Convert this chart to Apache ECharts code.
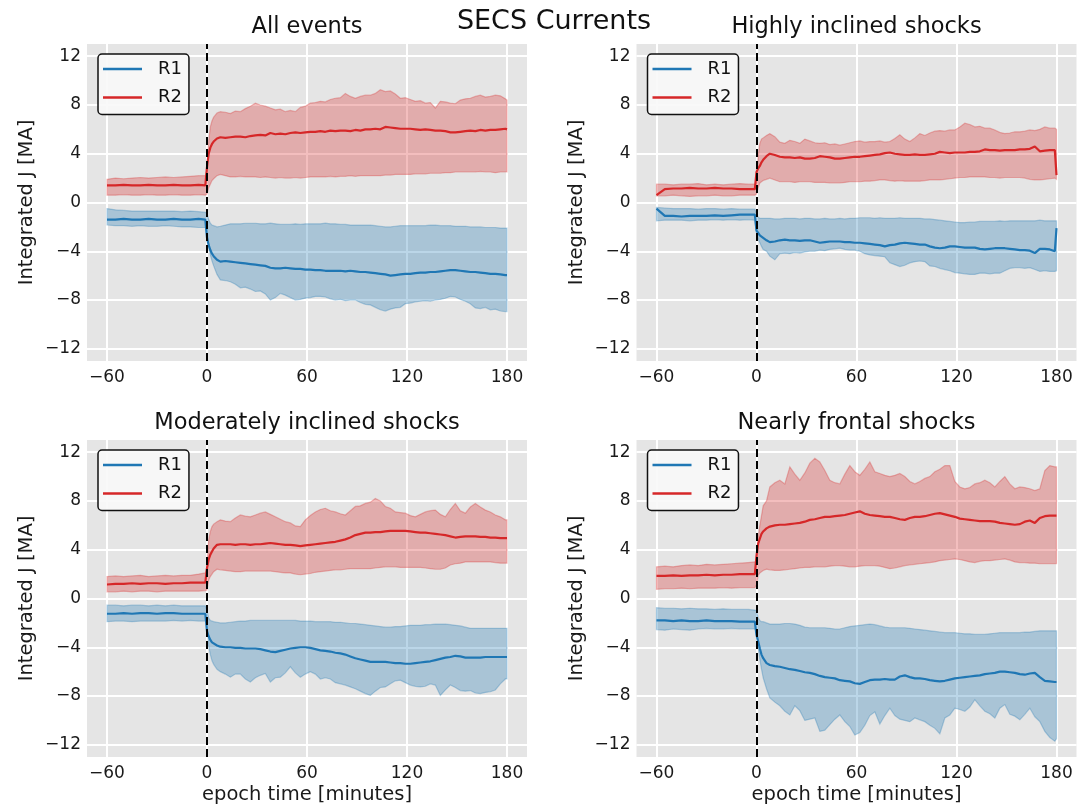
<!DOCTYPE html>
<html>
<head>
<meta charset="utf-8">
<script src="https://cdn.jsdelivr.net/npm/echarts@6/dist/echarts.min.js"></script>
<style>
  html, body { margin: 0; padding: 0; background: #ffffff; }
  #chart { width: 1090px; height: 807px; }
</style>
</head>
<body>
<div id="chart"></div>
<script>
// Epoch time grid in minutes (shared by every panel)
const TIME = [
  -60,-55,-50,-45,-40,-35,-30,-25,-20,-15,-10,-5,-1,
  0,1,2,3,4,6,
  8,11,14,17,20,23,26,29,32,35,
  38,41,44,47,50,53,56,59,62,65,
  68,71,74,77,80,83,86,89,92,95,
  98,101,104,107,110,113,116,119,122,125,
  128,131,134,137,140,143,146,149,152,155,
  158,161,164,167,170,173,176,179,
  180
];

const X_TICKS = [-60, 0, 60, 120, 180];
const Y_TICKS = [-12, -8, -4, 0, 4, 8, 12];
const TITLES = ['All events', 'Highly inclined shocks', 'Moderately inclined shocks', 'Nearly frontal shocks'];
const SERIES_NAMES = ['R1', 'R2'];

// ---- All events ----
const allR2 = [
  1.4,1.4,1.45,1.4,1.4,1.45,1.4,1.4,1.45,1.4,1.4,1.45,1.4,
  2.9,4.0,4.5,4.8,5.0,5.25,
  5.35,5.3,5.35,5.4,5.4,5.35,5.45,5.5,5.55,5.5,
  5.7,5.6,5.65,5.6,5.7,5.75,5.7,5.75,5.8,5.8,
  5.85,5.8,5.9,5.85,5.9,5.9,5.85,5.95,5.9,6.0,
  6.0,6.05,6.0,6.2,6.15,6.1,6.05,6.05,6.05,6.0,
  5.95,6.0,5.95,5.9,5.9,5.85,5.75,5.75,5.8,5.85,
  5.9,5.85,5.95,5.9,5.95,5.95,6.0,6.05,
  6.0
];
const allR2Hi = [
  1.9,2.0,1.95,2.0,2.05,2.0,2.05,2.1,2.05,2.1,2.15,2.2,2.2,
  2.6,5.0,6.2,6.7,7.0,7.35,
  7.45,7.4,7.3,7.5,7.45,7.7,7.9,8.15,8.0,7.9,
  7.75,7.6,7.65,7.45,7.55,7.45,7.8,7.9,8.15,8.2,
  8.3,8.25,8.45,8.55,8.6,8.95,8.7,8.55,8.7,8.8,
  8.8,8.95,9.25,9.1,9.15,8.9,8.55,8.6,8.45,8.3,
  8.35,8.15,8.2,7.75,8.3,8.25,8.15,8.1,8.4,8.5,
  8.55,8.7,8.8,8.65,8.7,8.8,8.75,8.5,
  8.4
];
const allR2Lo = [
  0.6,0.6,0.65,0.6,0.6,0.65,0.6,0.6,0.65,0.6,0.6,0.65,0.6,
  0.7,1.2,1.5,1.8,1.95,2.2,
  2.3,2.2,2.1,2.1,2.15,2.1,2.1,2.1,2.05,2.1,
  2.05,2.0,2.05,2.0,2.0,2.05,2.0,2.05,2.1,2.1,
  2.1,2.1,2.15,2.1,2.15,2.15,2.2,2.15,2.2,2.2,
  2.2,2.2,2.2,2.25,2.25,2.3,2.3,2.3,2.3,2.35,
  2.35,2.35,2.4,2.4,2.4,2.45,2.45,2.5,2.5,2.5,
  2.5,2.5,2.55,2.5,2.5,2.45,2.5,2.5,
  2.5
];
const allR1 = [
  -1.4,-1.4,-1.35,-1.4,-1.4,-1.35,-1.4,-1.4,-1.35,-1.4,-1.4,-1.35,-1.4,
  -2.9,-3.5,-3.9,-4.2,-4.4,-4.7,
  -4.85,-4.8,-4.85,-4.9,-4.95,-5.0,-5.05,-5.1,-5.15,-5.2,
  -5.35,-5.4,-5.4,-5.35,-5.4,-5.45,-5.45,-5.5,-5.5,-5.55,
  -5.55,-5.6,-5.6,-5.6,-5.6,-5.65,-5.6,-5.65,-5.7,-5.7,
  -5.75,-5.8,-5.85,-5.9,-6.0,-5.95,-5.9,-5.85,-5.85,-5.8,
  -5.75,-5.75,-5.7,-5.7,-5.65,-5.6,-5.55,-5.55,-5.6,-5.65,
  -5.7,-5.7,-5.75,-5.8,-5.85,-5.85,-5.9,-5.95,
  -5.95
];
const allR1Hi = [
  -0.5,-0.6,-0.65,-0.7,-0.7,-0.7,-0.7,-0.7,-0.7,-0.75,-0.7,-0.75,-0.8,
  -0.9,-1.4,-1.7,-1.85,-1.9,-2.0,
  -1.95,-1.85,-1.75,-1.75,-1.75,-1.7,-1.7,-1.7,-1.75,-1.75,
  -1.7,-1.75,-1.8,-1.8,-1.8,-1.75,-1.8,-1.75,-1.75,-1.75,
  -1.75,-1.7,-1.75,-1.75,-1.8,-1.8,-1.85,-1.85,-1.85,-1.85,
  -1.85,-1.9,-1.95,-2.0,-2.0,-1.95,-1.9,-1.9,-1.9,-1.9,
  -1.9,-1.9,-1.85,-1.85,-1.9,-1.9,-1.9,-1.95,-1.95,-1.95,
  -2.0,-2.0,-2.0,-2.05,-2.05,-2.05,-2.1,-2.1,
  -2.1
];
const allR1Lo = [
  -1.85,-1.9,-1.9,-1.95,-1.9,-1.95,-1.95,-1.9,-1.95,-2.0,-2.0,-2.05,-2.05,
  -2.2,-3.5,-4.3,-4.8,-5.2,-5.9,
  -6.35,-6.4,-6.5,-6.7,-7.0,-6.95,-7.1,-7.3,-7.25,-7.5,
  -8.0,-7.8,-7.45,-7.6,-7.8,-8.0,-7.95,-7.85,-7.8,-7.7,
  -7.7,-7.75,-7.9,-8.0,-7.95,-8.05,-8.0,-8.0,-8.2,-8.35,
  -8.4,-8.6,-8.8,-8.9,-8.75,-8.65,-8.6,-8.3,-8.25,-8.15,
  -8.1,-8.05,-8.1,-8.0,-7.95,-7.85,-7.7,-7.75,-7.95,-8.1,
  -8.3,-8.65,-8.7,-8.6,-8.8,-8.75,-8.9,-8.95,
  -8.95
];

// ---- Highly inclined shocks ----
const highR2 = [
  0.6,1.1,1.15,1.15,1.2,1.15,1.15,1.2,1.15,1.15,1.1,1.1,1.1,
  2.5,2.8,3.0,3.3,3.5,3.8,
  4.0,3.9,3.75,3.7,3.7,3.65,3.7,3.6,3.6,3.65,
  3.8,3.75,3.7,3.6,3.6,3.65,3.7,3.75,3.75,3.8,
  3.85,3.9,3.95,4.05,4.1,4.0,3.95,3.9,3.9,3.95,
  3.9,3.9,3.95,4.0,4.15,4.1,4.05,4.1,4.1,4.1,
  4.15,4.15,4.2,4.35,4.3,4.3,4.25,4.3,4.3,4.3,
  4.35,4.35,4.4,4.6,4.2,4.25,4.3,4.3,
  2.25
];
const highR2Hi = [
  1.5,1.5,1.45,1.5,1.5,1.55,1.45,1.5,1.45,1.5,1.55,1.5,1.5,
  1.6,3.8,4.85,5.2,5.3,5.5,
  5.65,5.4,4.95,4.85,5.1,5.0,4.85,5.2,5.05,4.9,
  4.85,4.9,4.75,4.8,4.7,4.8,4.9,5.0,5.05,4.95,
  5.0,5.0,5.05,4.95,5.0,5.25,5.55,5.2,5.0,5.3,
  5.65,5.5,5.7,5.85,5.9,5.85,5.95,5.95,6.2,6.5,
  6.4,6.2,6.25,6.1,6.1,5.95,5.75,5.65,5.7,5.8,
  5.8,5.85,5.95,5.9,6.0,6.2,6.1,6.1,
  6.0
];
const highR2Lo = [
  0.55,0.55,0.6,0.55,0.5,0.55,0.55,0.6,0.55,0.55,0.6,0.6,0.6,
  0.7,1.2,1.6,1.7,1.8,1.9,
  2.0,1.85,1.7,1.7,1.7,1.65,1.7,1.7,1.7,1.65,
  1.65,1.65,1.6,1.6,1.6,1.65,1.7,1.7,1.7,1.75,
  1.75,1.8,1.85,1.85,1.8,1.75,1.8,1.75,1.75,1.75,
  1.75,1.8,1.85,1.85,1.85,1.9,1.95,2.0,2.05,2.05,
  2.1,2.1,2.1,2.1,2.05,2.05,2.0,2.05,2.05,2.05,
  2.05,2.0,1.9,1.85,1.85,1.9,1.95,2.0,
  1.9
];
const highR1 = [
  -0.5,-1.1,-1.1,-1.15,-1.1,-1.1,-1.1,-1.05,-1.1,-1.05,-1.0,-1.0,-1.0,
  -2.3,-2.5,-2.7,-2.8,-2.9,-3.1,
  -3.25,-3.2,-3.1,-3.05,-3.1,-3.1,-3.15,-3.1,-3.1,-3.2,
  -3.3,-3.25,-3.2,-3.2,-3.2,-3.25,-3.25,-3.3,-3.3,-3.35,
  -3.4,-3.45,-3.5,-3.6,-3.5,-3.45,-3.35,-3.3,-3.35,-3.4,
  -3.45,-3.45,-3.6,-3.7,-3.75,-3.7,-3.6,-3.6,-3.65,-3.7,
  -3.7,-3.7,-3.8,-3.85,-3.8,-3.75,-3.75,-3.75,-3.8,-3.85,
  -3.9,-3.9,-3.95,-4.15,-3.8,-3.8,-3.85,-4.0,
  -2.1
];
const highR1Hi = [
  -0.4,-0.45,-0.5,-0.5,-0.5,-0.55,-0.5,-0.5,-0.55,-0.5,-0.55,-0.55,-0.55,
  -0.9,-1.2,-1.3,-1.3,-1.3,-1.3,
  -1.3,-1.35,-1.35,-1.3,-1.3,-1.3,-1.35,-1.3,-1.3,-1.35,
  -1.35,-1.3,-1.35,-1.35,-1.3,-1.35,-1.3,-1.3,-1.25,-1.25,
  -1.25,-1.3,-1.25,-1.3,-1.3,-1.3,-1.25,-1.3,-1.3,-1.3,
  -1.3,-1.35,-1.35,-1.4,-1.45,-1.5,-1.55,-1.6,-1.65,-1.65,
  -1.6,-1.6,-1.55,-1.55,-1.55,-1.55,-1.5,-1.55,-1.5,-1.5,
  -1.5,-1.5,-1.5,-1.5,-1.45,-1.5,-1.5,-1.5,
  -1.5
];
const highR1Lo = [
  -1.5,-1.45,-1.45,-1.45,-1.5,-1.45,-1.45,-1.4,-1.45,-1.4,-1.45,-1.4,-1.45,
  -2.5,-3.0,-3.3,-3.6,-3.85,-4.0,
  -4.4,-4.7,-4.2,-4.15,-4.2,-4.1,-4.15,-4.05,-4.0,-4.0,
  -3.9,-3.95,-3.85,-3.8,-3.75,-3.85,-3.9,-3.9,-4.0,-4.2,
  -4.3,-4.35,-4.4,-4.45,-4.95,-5.1,-5.25,-5.15,-4.95,-4.85,
  -4.8,-4.85,-5.2,-5.25,-5.4,-5.5,-5.6,-5.75,-5.8,-5.85,
  -5.9,-5.9,-5.8,-5.8,-5.85,-5.8,-5.8,-5.6,-5.4,-5.35,
  -5.35,-5.4,-5.35,-5.5,-5.65,-5.6,-5.65,-5.65,
  -5.6
];

// ---- Moderately inclined shocks ----
const modR2 = [
  1.15,1.2,1.2,1.25,1.2,1.25,1.25,1.2,1.25,1.25,1.3,1.3,1.3,
  2.5,3.2,3.6,3.85,4.1,4.4,
  4.45,4.45,4.45,4.4,4.45,4.45,4.4,4.45,4.45,4.5,
  4.55,4.5,4.45,4.4,4.4,4.35,4.3,4.35,4.4,4.45,
  4.5,4.55,4.6,4.65,4.75,4.85,5.0,5.2,5.3,5.4,
  5.4,5.45,5.45,5.5,5.55,5.55,5.55,5.55,5.5,5.45,
  5.4,5.4,5.35,5.3,5.25,5.2,5.1,5.0,5.05,5.1,
  5.1,5.1,5.05,5.05,5.0,5.0,4.95,4.95,
  4.95
];
const modR2Hi = [
  1.8,1.85,1.8,1.85,1.9,1.8,1.85,1.9,1.85,1.9,1.9,2.0,2.1,
  2.6,4.8,5.5,5.9,6.1,6.3,
  6.45,6.35,6.3,6.6,6.85,6.75,6.7,6.85,7.0,7.1,
  6.9,6.7,6.5,6.3,6.2,5.95,5.9,6.45,6.8,7.1,
  7.3,7.4,7.2,7.1,6.95,6.85,7.2,7.55,7.6,7.8,
  7.9,8.2,8.0,7.55,7.4,7.1,7.05,7.0,6.8,6.7,
  6.9,7.1,7.2,7.25,6.9,6.7,7.3,7.8,7.2,7.0,
  7.5,7.8,7.5,7.25,7.1,6.85,6.7,6.45,
  6.45
];
const modR2Lo = [
  0.55,0.55,0.6,0.55,0.6,0.6,0.55,0.6,0.6,0.6,0.6,0.6,0.65,
  0.7,1.5,1.8,2.0,2.2,2.4,
  2.35,2.3,2.25,2.2,2.2,2.25,2.25,2.25,2.25,2.25,
  2.25,2.2,2.15,2.1,2.1,2.0,1.95,2.0,2.05,2.15,
  2.2,2.25,2.3,2.35,2.35,2.4,2.45,2.45,2.45,2.45,
  2.45,2.5,2.55,2.6,2.6,2.6,2.55,2.55,2.55,2.55,
  2.55,2.5,2.45,2.4,2.4,2.5,2.75,2.85,2.9,3.0,
  3.0,3.0,3.0,3.0,3.0,2.95,2.9,2.9,
  2.9
];
const modR1 = [
  -1.25,-1.25,-1.2,-1.25,-1.2,-1.2,-1.25,-1.2,-1.2,-1.25,-1.25,-1.25,-1.25,
  -2.7,-3.1,-3.4,-3.6,-3.75,-3.85,
  -3.95,-4.0,-4.0,-4.05,-4.05,-4.1,-4.1,-4.1,-4.15,-4.25,
  -4.35,-4.4,-4.3,-4.2,-4.1,-4.05,-4.0,-4.0,-4.05,-4.15,
  -4.25,-4.3,-4.35,-4.45,-4.5,-4.6,-4.75,-4.9,-5.0,-5.1,
  -5.2,-5.2,-5.2,-5.2,-5.25,-5.3,-5.3,-5.35,-5.35,-5.3,
  -5.25,-5.2,-5.15,-5.05,-4.95,-4.85,-4.8,-4.7,-4.75,-4.85,
  -4.85,-4.85,-4.85,-4.8,-4.8,-4.8,-4.8,-4.8,
  -4.8
];
const modR1Hi = [
  -0.55,-0.55,-0.6,-0.55,-0.55,-0.6,-0.55,-0.6,-0.55,-0.6,-0.6,-0.6,-0.6,
  -1.0,-1.6,-1.8,-1.85,-1.9,-1.95,
  -2.0,-2.0,-1.95,-1.9,-1.85,-1.85,-1.8,-1.8,-1.8,-1.8,
  -1.8,-1.8,-1.8,-1.8,-1.8,-1.8,-1.85,-1.85,-1.85,-1.9,
  -1.9,-1.9,-1.9,-1.95,-1.95,-2.0,-2.05,-2.05,-2.1,-2.15,
  -2.2,-2.25,-2.3,-2.35,-2.35,-2.3,-2.3,-2.25,-2.2,-2.2,
  -2.2,-2.15,-2.15,-2.1,-2.1,-2.1,-2.15,-2.2,-2.25,-2.35,
  -2.45,-2.45,-2.45,-2.45,-2.45,-2.45,-2.45,-2.45,
  -2.45
];
const modR1Lo = [
  -1.9,-1.85,-1.85,-1.9,-1.85,-1.85,-1.85,-1.85,-1.8,-1.85,-1.8,-1.85,-1.85,
  -2.0,-3.9,-4.6,-5.1,-5.4,-5.8,
  -6.0,-6.2,-6.45,-6.2,-6.2,-6.6,-6.85,-6.5,-6.3,-6.15,
  -6.85,-6.5,-6.45,-6.1,-5.6,-6.1,-6.45,-6.2,-6.0,-6.2,
  -6.6,-6.5,-6.6,-6.9,-7.0,-7.1,-7.25,-7.4,-7.6,-7.8,
  -7.95,-7.6,-7.3,-7.25,-7.0,-6.75,-6.7,-6.9,-7.1,-7.2,
  -7.25,-7.2,-7.0,-7.1,-7.95,-7.5,-7.1,-7.3,-7.55,-7.6,
  -7.55,-7.75,-7.8,-7.7,-7.65,-7.5,-7.0,-6.6,
  -6.6
];

// ---- Nearly frontal shocks ----
const frontR2 = [
  1.85,1.85,1.9,1.85,1.9,1.9,1.95,1.9,1.95,1.95,2.0,2.0,2.0,
  3.5,4.5,4.9,5.3,5.5,5.75,
  5.9,6.0,6.05,6.05,6.1,6.15,6.2,6.3,6.45,6.5,
  6.6,6.7,6.7,6.75,6.8,6.85,6.95,7.05,7.15,6.95,
  6.85,6.8,6.75,6.7,6.7,6.6,6.5,6.45,6.6,6.7,
  6.7,6.75,6.85,6.95,7.0,6.9,6.8,6.7,6.55,6.5,
  6.45,6.4,6.35,6.35,6.35,6.3,6.2,6.15,6.1,6.05,
  6.1,6.3,6.4,6.2,6.6,6.75,6.8,6.8,
  6.8
];
const frontR2Hi = [
  2.6,2.65,2.6,2.7,2.75,2.7,2.8,2.75,2.8,2.85,2.9,2.95,3.0,
  3.1,5.0,6.0,6.8,7.6,8.0,
  9.15,9.5,9.7,9.4,10.8,10.2,9.7,10.3,11.1,11.5,
  11.2,10.5,9.7,9.5,9.4,10.2,10.9,10.4,10.1,10.6,
  11.2,10.4,10.25,10.1,10.0,10.1,10.25,10.0,9.6,9.4,
  9.6,9.85,10.0,10.4,10.6,10.9,10.9,9.6,9.15,9.0,
  9.1,9.4,9.5,9.7,9.5,9.15,9.6,10.0,9.4,9.0,
  9.15,9.1,9.0,8.85,9.0,10.5,10.9,10.8,
  10.8
];
const frontR2Lo = [
  0.75,0.8,0.8,0.85,0.8,0.85,0.85,0.85,0.9,0.85,0.9,0.9,0.9,
  1.1,1.9,2.1,2.2,2.3,2.4,
  2.35,2.3,2.3,2.35,2.4,2.45,2.5,2.55,2.55,2.6,
  2.6,2.6,2.65,2.7,2.7,2.65,2.6,2.6,2.65,2.7,
  2.7,2.7,2.65,2.55,2.45,2.5,2.6,2.7,2.75,2.8,
  2.85,2.9,2.95,3.0,3.1,3.15,3.2,3.25,3.2,3.1,
  3.0,2.95,3.05,3.1,3.1,3.15,3.2,3.25,3.15,3.0,
  2.95,2.95,2.9,2.9,2.85,2.85,2.85,2.85,
  2.85
];
const frontR1 = [
  -1.8,-1.8,-1.85,-1.8,-1.85,-1.85,-1.8,-1.85,-1.85,-1.85,-1.9,-1.9,-1.9,
  -3.0,-3.5,-4.1,-4.6,-4.9,-5.3,
  -5.45,-5.55,-5.6,-5.7,-5.8,-5.85,-5.95,-6.05,-6.1,-6.2,
  -6.35,-6.45,-6.5,-6.55,-6.7,-6.75,-6.8,-6.95,-7.0,-6.85,
  -6.7,-6.65,-6.65,-6.6,-6.65,-6.65,-6.4,-6.3,-6.45,-6.55,
  -6.55,-6.6,-6.7,-6.75,-6.8,-6.75,-6.65,-6.55,-6.5,-6.45,
  -6.4,-6.35,-6.3,-6.2,-6.15,-6.1,-6.0,-6.0,-6.05,-6.1,
  -6.2,-6.25,-6.15,-6.1,-6.45,-6.75,-6.8,-6.85,
  -6.85
];
const frontR1Hi = [
  -0.75,-0.8,-0.8,-0.85,-0.8,-0.85,-0.85,-0.9,-0.85,-0.9,-0.9,-0.9,-0.95,
  -1.0,-1.6,-1.8,-1.9,-1.9,-2.0,
  -2.1,-2.1,-2.1,-2.05,-2.05,-2.1,-2.2,-2.35,-2.4,-2.4,
  -2.4,-2.4,-2.45,-2.5,-2.5,-2.4,-2.3,-2.25,-2.2,-2.15,
  -2.1,-2.15,-2.25,-2.35,-2.4,-2.4,-2.4,-2.4,-2.45,-2.5,
  -2.55,-2.6,-2.65,-2.7,-2.75,-2.8,-2.8,-2.8,-2.85,-2.9,
  -2.9,-2.95,-2.95,-2.95,-2.9,-2.85,-2.8,-2.8,-2.8,-2.8,
  -2.8,-2.75,-2.75,-2.7,-2.65,-2.65,-2.65,-2.65,
  -2.65
];
const frontR1Lo = [
  -2.55,-2.6,-2.5,-2.55,-2.6,-2.5,-2.45,-2.5,-2.5,-2.45,-2.5,-2.5,-2.5,
  -2.6,-4.0,-5.0,-5.8,-6.5,-7.4,
  -8.15,-8.5,-8.8,-9.25,-9.55,-8.8,-9.2,-10.0,-9.9,-9.8,
  -10.9,-10.8,-10.35,-9.9,-9.55,-10.1,-10.5,-11.2,-11.0,-10.4,
  -9.6,-9.3,-10.3,-9.6,-9.0,-9.6,-9.9,-10.0,-10.1,-9.8,
  -9.95,-10.1,-10.4,-10.65,-11.1,-9.8,-9.55,-9.0,-9.1,-9.25,
  -8.9,-8.3,-8.8,-9.25,-9.45,-9.8,-9.0,-8.7,-9.5,-9.65,
  -9.95,-9.5,-9.0,-9.7,-10.1,-10.9,-11.4,-11.7,
  -11.5
];

// Panel -> series lookup (R1 then R2; each as [mean, low, high])
const PANEL_DATA = [
  [[allR1, allR1Lo, allR1Hi], [allR2, allR2Lo, allR2Hi]],
  [[highR1, highR1Lo, highR1Hi], [highR2, highR2Lo, highR2Hi]],
  [[modR1, modR1Lo, modR1Hi], [modR2, modR2Lo, modR2Hi]],
  [[frontR1, frontR1Lo, frontR1Hi], [frontR2, frontR2Lo, frontR2Hi]]
];

const FONT = 'DejaVu Sans';
const COLORS = ['#1f77b4', '#d62728'];
const BAND_FILL = ['rgba(31,119,180,0.3)', 'rgba(214,39,40,0.3)'];
const GRID_POS = [
  { left: 87, top: 44 }, { left: 636.5, top: 44 },
  { left: 87, top: 440 }, { left: 636.5, top: 440 }
];
const GRID_W = 440, GRID_H = 317;

const minusFmt = v => (v < 0 ? '\u2212' + Math.abs(v) : String(v));

const grids = [], xAxes = [], yAxes = [], series = [], legends = [], graphics = [];

GRID_POS.forEach((p, i) => {
  grids.push({
    left: p.left, top: p.top, width: GRID_W, height: GRID_H,
    show: true, backgroundColor: '#e5e5e5', borderWidth: 0,
    containLabel: false, outerBoundsMode: 'none'
  });
  xAxes.push({
    type: 'value', gridIndex: i, min: -72, max: 192,
    axisLine: { show: false },
    axisTick: { show: false, customValues: X_TICKS },
    axisLabel: { customValues: X_TICKS, formatter: minusFmt, color: '#1a1a1a',
                 fontSize: 17, fontFamily: FONT, margin: 8 },
    splitLine: { show: true, lineStyle: { color: '#ffffff', width: 2 } },
    name: i >= 2 ? 'epoch time [minutes]' : '',
    nameLocation: 'middle', nameGap: 28,
    nameTextStyle: { fontSize: 19.5, fontFamily: FONT, color: '#1a1a1a' }
  });
  yAxes.push({
    type: 'value', gridIndex: i, min: -13, max: 13,
    axisLine: { show: false },
    axisTick: { show: false, customValues: Y_TICKS },
    axisLabel: { customValues: Y_TICKS, formatter: minusFmt, color: '#1a1a1a',
                 fontSize: 17, fontFamily: FONT, margin: 6 },
    splitLine: { show: true, lineStyle: { color: '#ffffff', width: 2 } },
    name: 'Integrated J [MA]', nameLocation: 'middle', nameRotate: 90, nameGap: 50,
    nameTextStyle: { fontSize: 19.5, fontFamily: FONT, color: '#1a1a1a' }
  });

  PANEL_DATA[i].forEach((triple, s) => {
    const [mean, lo, hi] = triple;
    // shaded spread between low and high curves
    series.push({
      type: 'custom', name: SERIES_NAMES[s] + ' spread',
      xAxisIndex: i, yAxisIndex: i, silent: true, clip: true, z: 1,
      data: [[0, 0]],
      renderItem: (params, api) => {
        const pts = [];
        for (let k = 0; k < TIME.length; k++) pts.push(api.coord([TIME[k], hi[k]]));
        for (let k = TIME.length - 1; k >= 0; k--) pts.push(api.coord([TIME[k], lo[k]]));
        return {
          type: 'polygon', shape: { points: pts },
          style: { fill: BAND_FILL[s], stroke: BAND_FILL[s], lineWidth: 1.2 }
        };
      }
    });
    const line = {
      type: 'line', name: SERIES_NAMES[s], xAxisIndex: i, yAxisIndex: i,
      data: TIME.map((t, k) => [t, mean[k]]),
      showSymbol: false, symbol: 'none', color: COLORS[s], z: 2,
      lineStyle: { color: COLORS[s], width: 2.2 },
      silent: true
    };
    if (s === 1) {
      line.markLine = {
        silent: true, symbol: ['none', 'none'], animation: false,
        label: { show: false },
        lineStyle: { color: '#000000', type: [8, 4], width: 2 },
        data: [{ xAxis: 0 }]
      };
    }
    series.push(line);
  });

  legends.push({
    data: SERIES_NAMES, orient: 'vertical', selectedMode: false,
    left: p.left + 11, top: p.top + 10,
    icon: 'rect', itemWidth: 39, itemHeight: 2.5, itemGap: 8.5,
    padding: [5, 7, 7, 5],
    backgroundColor: 'rgba(248,248,248,0.9)', borderColor: '#111111',
    borderWidth: 1.5, borderRadius: 4,
    textStyle: { fontSize: 18, fontFamily: FONT, color: '#111111',
                 lineHeight: 20, padding: [0, 0, 0, 11] }
  });

  graphics.push({
    type: 'text', x: p.left + GRID_W / 2, y: p.top - 17,
    style: { text: TITLES[i], fontSize: 22.5, fontFamily: FONT, fill: '#111111',
             align: 'center', verticalAlign: 'middle' }
  });
});

graphics.push({
  type: 'text', x: 554, y: 22,
  style: { text: 'SECS Currents', fontSize: 27, fontFamily: FONT, fill: '#111111',
           align: 'center', verticalAlign: 'middle' }
});

const chart = echarts.init(document.getElementById('chart'), null, { renderer: 'canvas' });
chart.setOption({
  animation: false,
  backgroundColor: '#ffffff',
  grid: grids,
  xAxis: xAxes,
  yAxis: yAxes,
  legend: legends,
  series: series,
  graphic: graphics
});
</script>
</body>
</html>
